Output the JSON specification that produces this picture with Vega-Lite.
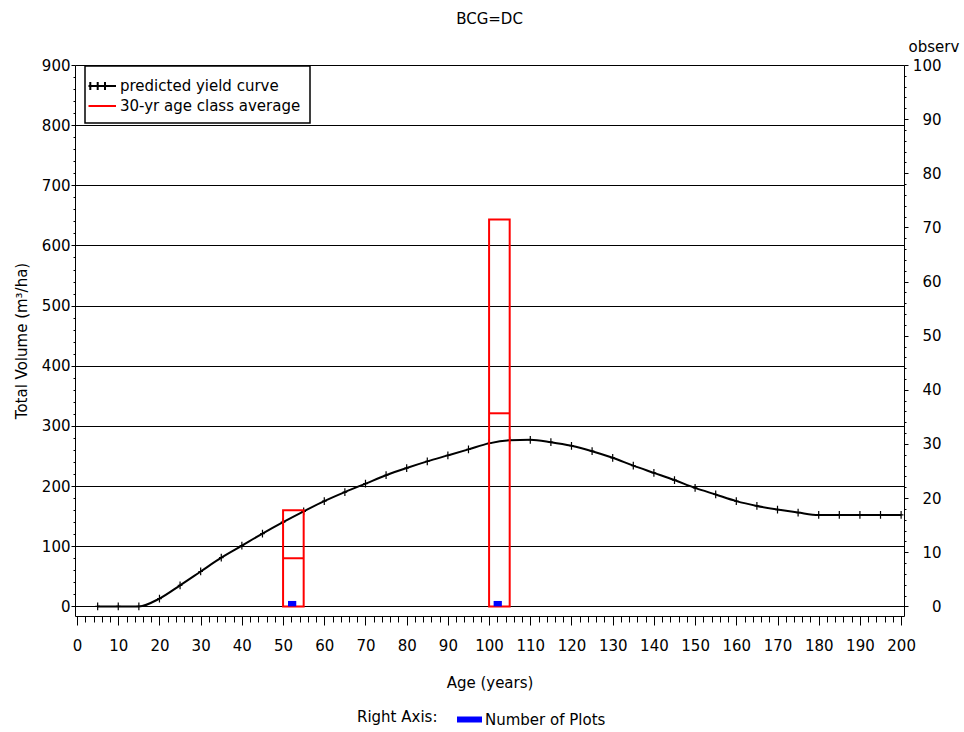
{
  "$schema": "https://vega.github.io/schema/vega-lite/v6.json",
  "width": 829,
  "height": 551,
  "autosize": {"type": "none"},
  "padding": {"left": 75, "top": 65, "right": 60, "bottom": 116},
  "background": "white",
  "title": {
    "text": "BCG=DC",
    "anchor": "middle",
    "frame": "group",
    "fontSize": 15,
    "fontWeight": "normal",
    "color": "black",
    "offset": 12
  },
  "config": {
    "font": "DejaVu Sans",
    "view": {"stroke": null},
    "axis": {
      "domainColor": "black",
      "domainWidth": 1,
      "tickColor": "black",
      "tickWidth": 1,
      "labelColor": "black",
      "labelFontSize": 15,
      "titleColor": "black",
      "titleFontSize": 15,
      "titleFontWeight": "normal",
      "labelOverlap": false,
      "labelFlush": false
    },
    "legend": {
      "labelColor": "black",
      "labelFontSize": 15,
      "labelLimit": 400,
      "titleColor": "black",
      "titleFontSize": 15,
      "titleFontWeight": "normal"
    }
  },
  "datasets": {
    "yield": [
      {"age": 5, "vol": 0, "series": "predicted yield curve"},
      {"age": 10, "vol": 0, "series": "predicted yield curve"},
      {"age": 15, "vol": 0, "series": "predicted yield curve"},
      {"age": 20, "vol": 13, "series": "predicted yield curve"},
      {"age": 25, "vol": 35, "series": "predicted yield curve"},
      {"age": 30, "vol": 58, "series": "predicted yield curve"},
      {"age": 35, "vol": 81, "series": "predicted yield curve"},
      {"age": 40, "vol": 101, "series": "predicted yield curve"},
      {"age": 45, "vol": 121, "series": "predicted yield curve"},
      {"age": 50, "vol": 140, "series": "predicted yield curve"},
      {"age": 55, "vol": 158, "series": "predicted yield curve"},
      {"age": 60, "vol": 175, "series": "predicted yield curve"},
      {"age": 65, "vol": 190, "series": "predicted yield curve"},
      {"age": 70, "vol": 204, "series": "predicted yield curve"},
      {"age": 75, "vol": 218, "series": "predicted yield curve"},
      {"age": 80, "vol": 230, "series": "predicted yield curve"},
      {"age": 85, "vol": 241, "series": "predicted yield curve"},
      {"age": 90, "vol": 251, "series": "predicted yield curve"},
      {"age": 95, "vol": 261, "series": "predicted yield curve"},
      {"age": 100, "vol": 271, "series": "predicted yield curve"},
      {"age": 105, "vol": 276, "series": "predicted yield curve"},
      {"age": 110, "vol": 277, "series": "predicted yield curve"},
      {"age": 115, "vol": 273, "series": "predicted yield curve"},
      {"age": 120, "vol": 267, "series": "predicted yield curve"},
      {"age": 125, "vol": 258, "series": "predicted yield curve"},
      {"age": 130, "vol": 247, "series": "predicted yield curve"},
      {"age": 135, "vol": 234, "series": "predicted yield curve"},
      {"age": 140, "vol": 222, "series": "predicted yield curve"},
      {"age": 145, "vol": 210, "series": "predicted yield curve"},
      {"age": 150, "vol": 197, "series": "predicted yield curve"},
      {"age": 155, "vol": 186, "series": "predicted yield curve"},
      {"age": 160, "vol": 175, "series": "predicted yield curve"},
      {"age": 165, "vol": 167, "series": "predicted yield curve"},
      {"age": 170, "vol": 161, "series": "predicted yield curve"},
      {"age": 175, "vol": 156, "series": "predicted yield curve"},
      {"age": 180, "vol": 152, "series": "predicted yield curve"},
      {"age": 185, "vol": 152, "series": "predicted yield curve"},
      {"age": 190, "vol": 152, "series": "predicted yield curve"},
      {"age": 195, "vol": 152, "series": "predicted yield curve"},
      {"age": 200, "vol": 152, "series": "predicted yield curve"}
    ],
    "classes": [
      {"a0": 50, "a1": 55, "top": 160, "mean": 80, "series": "30-yr age class average"},
      {"a0": 100, "a1": 105, "top": 643, "mean": 321, "series": "30-yr age class average"}
    ],
    "plots": [
      {"a0": 51.2, "a1": 53.2, "n": 1, "what": "Number of Plots"},
      {"a0": 101.1, "a1": 103.1, "n": 1, "what": "Number of Plots"}
    ]
  },
  "layer": [
    {
      "layer": [
        {
          "data": {"name": "yield"},
          "mark": {
            "type": "line",
            "interpolate": "monotone",
            "strokeWidth": 2,
            "point": {
              "shape": "M0,-1V1M-0.6,0H0.6",
              "filled": false,
              "size": 60,
              "strokeWidth": 1.2,
              "color": "black"
            }
          },
          "encoding": {
            "x": {
              "field": "age",
              "type": "quantitative",
              "scale": {"domain": [-0.5, 200.7], "nice": false, "zero": false},
              "axis": {
                "title": "Age (years)",
                "values": [0,2,4,6,8,10,12,14,16,18,20,22,24,26,28,30,32,34,36,38,40,42,44,46,48,50,52,54,56,58,60,62,64,66,68,70,72,74,76,78,80,82,84,86,88,90,92,94,96,98,100,102,104,106,108,110,112,114,116,118,120,122,124,126,128,130,132,134,136,138,140,142,144,146,148,150,152,154,156,158,160,162,164,166,168,170,172,174,176,178,180,182,184,186,188,190,192,194,196,198,200],
                "labelExpr": "datum.value % 10 === 0 ? datum.label : ''",
                "tickSize": {"condition": {"test": "datum.value % 10 === 0", "value": 9}, "value": 6},
                "grid": false,
                "labelPadding": 13,
                "titlePadding": 22
              }
            },
            "y": {
              "field": "vol",
              "type": "quantitative",
              "scale": {"domain": [-16, 900], "nice": false, "zero": false},
              "axis": {
                "title": "Total Volume (m³/ha)",
                "orient": "left",
                "values": [0,20,40,60,80,100,120,140,160,180,200,220,240,260,280,300,320,340,360,380,400,420,440,460,480,500,520,540,560,580,600,620,640,660,680,700,720,740,760,780,800,820,840,860,880,900],
                "labelExpr": "datum.value % 100 === 0 ? datum.label : ''",
                "tickSize": {"condition": {"test": "datum.value % 100 === 0", "value": 4}, "value": 2},
                "grid": true,
                "gridColor": "black",
                "gridWidth": 1,
                "gridOpacity": {"condition": {"test": "datum.value % 100 === 0", "value": 1}, "value": 0},
                "labelPadding": 1,
                "titlePadding": 12
              }
            },
            "color": {
              "field": "series",
              "type": "nominal",
              "scale": {
                "domain": ["predicted yield curve", "30-yr age class average"],
                "range": ["black", "#ff0000"]
              },
              "legend": {
                "orient": "none",
                "legendX": 10,
                "legendY": 1,
                "title": null,
                "padding": 9,
                "rowPadding": 1,
                "strokeColor": "black",
                "fillColor": "white",
                "labelOffset": 4,
                "labelLimit": 400,
                "symbolSize": 400,
                "symbolStrokeWidth": 2,
                "symbolType": "M-1.65,0H1.1",
                "encode": {
                  "legend": {
                    "update": {"strokeWidth": {"value": 1.5}}
                  },
                  "symbols": {
                    "update": {
                      "shape": {"signal": "datum.value === 'predicted yield curve' ? 'M-1.65,0H1.1M-1.47,-0.4V0.4M-0.73,-0.4V0.4M0,-0.4V0.4' : 'M-1.65,0H1.1'"},
                      "fill": {"value": "transparent"}
                    }
                  }
                }
              }
            }
          }
        },
        {
          "data": {"name": "classes"},
          "mark": {"type": "rect", "filled": false, "strokeWidth": 2},
          "encoding": {
            "x": {
              "field": "a0",
              "type": "quantitative",
              "scale": {"domain": [-0.5, 200.7], "nice": false, "zero": false},
              "axis": {
                "title": "Age (years)",
                "values": [0,2,4,6,8,10,12,14,16,18,20,22,24,26,28,30,32,34,36,38,40,42,44,46,48,50,52,54,56,58,60,62,64,66,68,70,72,74,76,78,80,82,84,86,88,90,92,94,96,98,100,102,104,106,108,110,112,114,116,118,120,122,124,126,128,130,132,134,136,138,140,142,144,146,148,150,152,154,156,158,160,162,164,166,168,170,172,174,176,178,180,182,184,186,188,190,192,194,196,198,200],
                "labelExpr": "datum.value % 10 === 0 ? datum.label : ''",
                "tickSize": {"condition": {"test": "datum.value % 10 === 0", "value": 9}, "value": 6},
                "grid": false,
                "labelPadding": 13,
                "titlePadding": 22
              }
            },
            "x2": {"field": "a1"},
            "y": {
              "field": "top",
              "type": "quantitative",
              "scale": {"domain": [-16, 900], "nice": false, "zero": false},
              "axis": {
                "title": "Total Volume (m³/ha)",
                "orient": "left",
                "values": [0,20,40,60,80,100,120,140,160,180,200,220,240,260,280,300,320,340,360,380,400,420,440,460,480,500,520,540,560,580,600,620,640,660,680,700,720,740,760,780,800,820,840,860,880,900],
                "labelExpr": "datum.value % 100 === 0 ? datum.label : ''",
                "tickSize": {"condition": {"test": "datum.value % 100 === 0", "value": 4}, "value": 2},
                "grid": true,
                "gridColor": "black",
                "gridWidth": 1,
                "gridOpacity": {"condition": {"test": "datum.value % 100 === 0", "value": 1}, "value": 0},
                "labelPadding": 1,
                "titlePadding": 12
              }
            },
            "y2": {"datum": 0},
            "color": {"field": "series", "type": "nominal"}
          }
        },
        {
          "data": {"name": "classes"},
          "mark": {"type": "rule", "strokeWidth": 2, "color": "#ff0000"},
          "encoding": {
            "x": {
              "field": "a0",
              "type": "quantitative",
              "scale": {"domain": [-0.5, 200.7], "nice": false, "zero": false},
              "axis": {
                "title": "Age (years)",
                "values": [0,2,4,6,8,10,12,14,16,18,20,22,24,26,28,30,32,34,36,38,40,42,44,46,48,50,52,54,56,58,60,62,64,66,68,70,72,74,76,78,80,82,84,86,88,90,92,94,96,98,100,102,104,106,108,110,112,114,116,118,120,122,124,126,128,130,132,134,136,138,140,142,144,146,148,150,152,154,156,158,160,162,164,166,168,170,172,174,176,178,180,182,184,186,188,190,192,194,196,198,200],
                "labelExpr": "datum.value % 10 === 0 ? datum.label : ''",
                "tickSize": {"condition": {"test": "datum.value % 10 === 0", "value": 9}, "value": 6},
                "grid": false,
                "labelPadding": 13,
                "titlePadding": 22
              }
            },
            "x2": {"field": "a1"},
            "y": {
              "field": "mean",
              "type": "quantitative",
              "scale": {"domain": [-16, 900], "nice": false, "zero": false},
              "axis": {
                "title": "Total Volume (m³/ha)",
                "orient": "left",
                "values": [0,20,40,60,80,100,120,140,160,180,200,220,240,260,280,300,320,340,360,380,400,420,440,460,480,500,520,540,560,580,600,620,640,660,680,700,720,740,760,780,800,820,840,860,880,900],
                "labelExpr": "datum.value % 100 === 0 ? datum.label : ''",
                "tickSize": {"condition": {"test": "datum.value % 100 === 0", "value": 4}, "value": 2},
                "grid": true,
                "gridColor": "black",
                "gridWidth": 1,
                "gridOpacity": {"condition": {"test": "datum.value % 100 === 0", "value": 1}, "value": 0},
                "labelPadding": 1,
                "titlePadding": 12
              }
            }
          }
        }
      ]
    },
    {
      "data": {"name": "plots"},
      "mark": {"type": "rect", "strokeWidth": 0},
      "encoding": {
        "x": {
          "field": "a0",
          "type": "quantitative",
          "scale": {"domain": [-0.5, 200.7], "nice": false, "zero": false},
          "axis": {
            "title": "Age (years)",
            "values": [0,2,4,6,8,10,12,14,16,18,20,22,24,26,28,30,32,34,36,38,40,42,44,46,48,50,52,54,56,58,60,62,64,66,68,70,72,74,76,78,80,82,84,86,88,90,92,94,96,98,100,102,104,106,108,110,112,114,116,118,120,122,124,126,128,130,132,134,136,138,140,142,144,146,148,150,152,154,156,158,160,162,164,166,168,170,172,174,176,178,180,182,184,186,188,190,192,194,196,198,200],
            "labelExpr": "datum.value % 10 === 0 ? datum.label : ''",
            "tickSize": {"condition": {"test": "datum.value % 10 === 0", "value": 9}, "value": 6},
            "grid": false,
            "labelPadding": 13,
            "titlePadding": 22
          }
        },
        "x2": {"field": "a1"},
        "y": {
          "field": "n",
          "type": "quantitative",
          "scale": {"domain": [-1.778, 100], "nice": false, "zero": false},
          "axis": {
            "orient": "right",
            "title": "observ",
            "titleAngle": 0,
            "titleAlign": "left",
            "titleBaseline": "alphabetic",
            "titleX": 4,
            "titleY": -14,
            "values": [0,2,4,6,8,10,12,14,16,18,20,22,24,26,28,30,32,34,36,38,40,42,44,46,48,50,52,54,56,58,60,62,64,66,68,70,72,74,76,78,80,82,84,86,88,90,92,94,96,98,100],
            "labelExpr": "datum.value % 10 === 0 ? datum.label : ''",
            "tickSize": {"condition": {"test": "datum.value % 10 === 0", "value": 4}, "value": 2},
            "labelAlign": "right",
            "labelPadding": 33,
            "grid": false
          }
        },
        "y2": {"datum": 0},
        "fill": {
          "field": "what",
          "type": "nominal",
          "scale": {"range": ["#0000ff"]},
          "legend": {
            "orient": "none",
            "legendX": 282,
            "legendY": 642,
            "direction": "horizontal",
            "title": "Right Axis:",
            "titleOrient": "left",
            "titlePadding": 19,
            "titleBaseline": "middle",
            "padding": 0,
            "labelOffset": 3,
            "symbolType": "M-1,-0.24H1V0.24H-1Z",
            "symbolSize": 625,
            "symbolStrokeWidth": 0
          }
        }
      }
    }
  ],
  "resolve": {"scale": {"y": "independent"}}
}
